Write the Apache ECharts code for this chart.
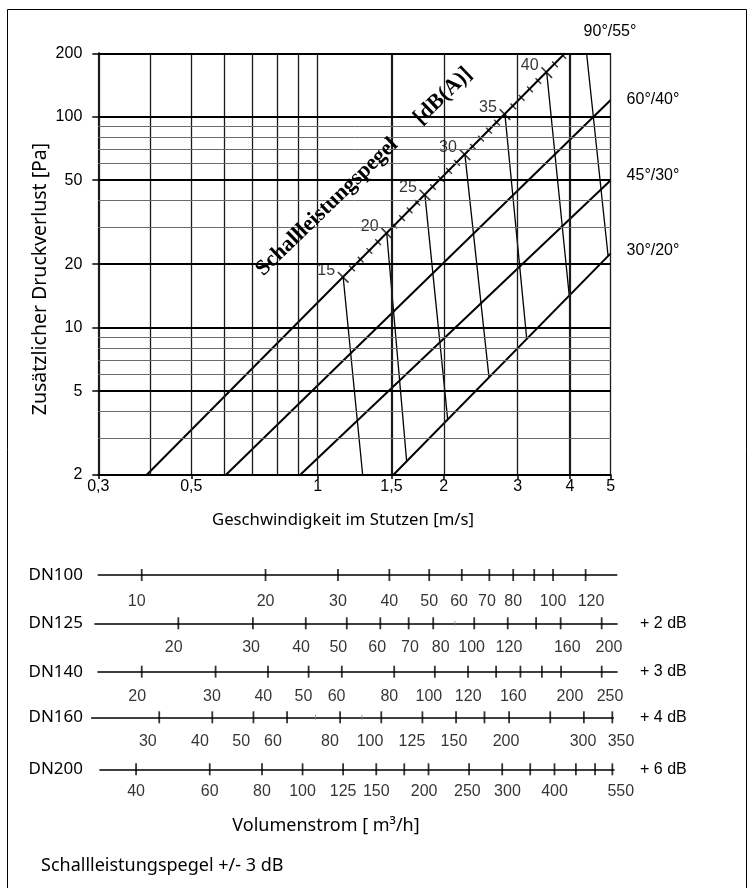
<!DOCTYPE html>
<html><head><meta charset="utf-8">
<script src="https://cdn.jsdelivr.net/npm/echarts@6/dist/echarts.min.js"></script>
<style>html,body{margin:0;padding:0;background:#fff}#c{width:750px;height:888px}</style>
</head><body><div id="c"></div>
<script>
// ---------- data ----------
const xTickValues = [0.3, 0.5, 1, 1.5, 2, 3, 4, 5];
const yTickValues = [2, 5, 10, 20, 50, 100, 200];
const xGridValues = [0.3, 0.4, 0.5, 0.6, 0.7, 0.8, 0.9, 1, 1.5, 2, 3, 4, 5];
const yGridMajorValues = [2, 5, 10, 20, 50, 100, 200];
const yGridMinorValues = [3, 4, 6, 7, 8, 9, 30, 40, 60, 70, 80, 90];

const fittingNames = ['90°/55°', '60°/40°', '45°/30°', '30°/20°'];
const line90_55 = [[0.391, 2], [3.89, 200]];
const line60_40 = [[0.604, 2], [5, 120]];
const line45_30 = [[0.908, 2], [5, 50]];
const line30_20 = [[1.515, 2], [5, 22.5]];

const dbLevels = [15, 20, 25, 30, 35, 40];
const dbMajorVelocity = [1.151, 1.462, 1.803, 2.246, 2.798, 3.519];
const dbMajorPressure = [17.33, 27.96, 42.52, 65.98, 102.4, 162.0];
const dbMinorVelocity = [1.208, 1.267, 1.329, 1.394, 1.525, 1.590, 1.658, 1.729, 1.884, 1.969, 2.058, 2.150,
  2.347, 2.453, 2.563, 2.678, 2.928, 3.066, 3.210, 3.361, 3.681, 3.855];
const dbMinorPressure = [19.09, 21.00, 23.10, 25.42, 30.42, 33.07, 35.96, 39.10, 46.43, 50.71, 55.40, 60.46,
  72.05, 78.71, 85.92, 93.80, 112.1, 123.0, 134.8, 147.8, 177.2, 194.4];

const iso15 = [[1.151, 17.33], [1.281, 2]];
const iso20 = [[1.462, 27.96], [1.631, 2.32]];
const iso25 = [[1.803, 42.52], [2.043, 3.67]];
const iso30 = [[2.246, 65.98], [2.563, 5.81]];
const iso35 = [[2.798, 102.4], [3.153, 8.84]];
const iso40 = [[3.519, 162.0], [3.982, 14.2]];
const iso45 = [[4.38, 200], [4.93, 21.8]];

const dnNames = ['DN100', 'DN125', 'DN140', 'DN160', 'DN200'];
const dnCorrections = ['', '+ 2 dB', '+ 3 dB', '+ 4 dB', '+ 6 dB'];
const dn100Ticks = [10, 20, 30, 40, 50, 60, 70, 80, 90, 100, 120];
const dn100Minor = [];
const dn100Labels = [10, 20, 30, 40, 50, 60, 70, 80, 100, 120];
const dn100LabelAt = [9.72, 20, 30, 40, 50, 59.1, 69.1, 80, 100, 123.7];
const dn125Ticks = [20, 30, 40, 50, 60, 70, 80, 100, 120, 140, 160, 200];
const dn125Minor = [90];
const dn125Labels = [20, 30, 40, 50, 60, 70, 80, 100, 120, 160, 200];
const dn125LabelAt = [19.5, 29.7, 39.0, 47.75, 59.0, 70.5, 83.3, 98.6, 120.8, 165.9, 208.1];
const dn140Ticks = [20, 30, 40, 50, 60, 80, 100, 120, 140, 160, 180, 200, 250];
const dn140Minor = [];
const dn140Labels = [20, 30, 40, 50, 60, 80, 100, 120, 160, 200, 250];
const dn140LabelAt = [19.5, 29.4, 39.0, 48.6, 58.3, 77.9, 96.8, 120.1, 153.8, 210.0, 261.7];
const dn160Ticks = [30, 40, 50, 60, 80, 100, 125, 150, 175, 200, 250, 300, 350];
const dn160Minor = [70, 90];
const dn160Labels = [30, 40, 50, 60, 80, 100, 125, 150, 200, 300, 350];
const dn160LabelAt = [28.2, 37.4, 46.8, 55.6, 75.7, 94.1, 118.1, 148.3, 196.7, 298.6, 367.0];
const dn200Ticks = [40, 60, 80, 100, 125, 150, 175, 200, 250, 300, 350, 400, 450, 500, 550];
const dn200Minor = [];
const dn200Labels = [40, 60, 80, 100, 125, 150, 200, 250, 300, 400, 550];
const dn200LabelAt = [40, 60, 80, 100, 125, 150, 195.2, 247.6, 308.8, 400, 576.2];

// ---------- layout / styles ----------
const NUM = '"Liberation Sans", Arial, sans-serif';
const DIN = '"Noto Sans", "DejaVu Sans", sans-serif';
const fmt = v => String(+(+v).toPrecision(4)).replace('.', ',');

const dnRows = [
  {ticks: dn100Ticks, minor: dn100Minor, labels: dn100Labels, at: dn100LabelAt, y: 575, xs: 98.3, xe: 616.7, min: 7.843, max: 142.8, off: 27},
  {ticks: dn125Ticks, minor: dn125Minor, labels: dn125Labels, at: dn125LabelAt, y: 623.3, xs: 95, xe: 617, min: 12.71, max: 217.4, off: 24},
  {ticks: dn140Ticks, minor: dn140Minor, labels: dn140Labels, at: dn140LabelAt, y: 671.7, xs: 98, xe: 617, min: 15.73, max: 271.9, off: 25},
  {ticks: dn160Ticks, minor: dn160Minor, labels: dn160Labels, at: dn160LabelAt, y: 717.3, xs: 91.7, xe: 613.3, min: 20.8, max: 351.9, off: 24},
  {ticks: dn200Ticks, minor: dn200Minor, labels: dn200Labels, at: dn200LabelAt, y: 769.3, xs: 100, xe: 614, min: 32.8, max: 555, off: 22.5}
];

const grid = [{left: 98.3, top: 53.3, width: 512.4, height: 421.7}];
const xAxis = [{
  type: 'log', gridIndex: 0, min: 0.3, max: 5, logBase: 10,
  axisLine: {show: true, lineStyle: {color: '#000', width: 2}},
  axisTick: {show: true, customValues: xTickValues, length: 4, lineStyle: {color: '#000', width: 1.5}},
  axisLabel: {customValues: xTickValues, formatter: v => fmt(v), color: '#000', fontFamily: NUM, fontSize: 16, margin: 4},
  splitLine: {show: false}, minorTick: {show: false}, minorSplitLine: {show: false}
}];
const yAxis = [{
  type: 'log', gridIndex: 0, min: 2, max: 200, logBase: 10,
  axisLine: {show: true, lineStyle: {color: '#000', width: 2}},
  axisTick: {show: true, customValues: yTickValues, length: 6, lineStyle: {color: '#000', width: 1.5}},
  axisLabel: {customValues: yTickValues, formatter: v => fmt(v), color: '#000', fontFamily: NUM, fontSize: 16, margin: 16},
  splitLine: {show: false}, minorTick: {show: false}, minorSplitLine: {show: false}
}];

const thickX = [0.3, 1.5, 4];
const gridMarks = [];
xGridValues.forEach(v => gridMarks.push({xAxis: v, lineStyle: {color: '#1a1a1a', width: thickX.includes(v) ? 2.2 : 1.3, type: 'solid'}}));
yGridMinorValues.forEach(v => gridMarks.push({yAxis: v, lineStyle: {color: '#6a6a6a', width: 1, type: 'solid'}}));
yGridMajorValues.forEach(v => gridMarks.push({yAxis: v, lineStyle: {color: '#000', width: 2, type: 'solid'}}));

const series = [];
series.push({
  type: 'line', xAxisIndex: 0, yAxisIndex: 0, data: [[0.3, 2]], showSymbol: false, symbol: 'none',
  lineStyle: {opacity: 0}, z: 1, silent: true,
  markLine: {silent: true, symbol: ['none', 'none'], label: {show: false}, animation: false, data: gridMarks}
});
[line90_55, line60_40, line45_30, line30_20].forEach((d, i) => series.push({
  type: 'line', name: fittingNames[i], xAxisIndex: 0, yAxisIndex: 0, data: d, symbol: 'none',
  lineStyle: {color: '#000', width: 2}, z: 3
}));
[iso15, iso20, iso25, iso30, iso35, iso40, iso45].forEach(d => series.push({
  type: 'line', xAxisIndex: 0, yAxisIndex: 0, data: d, symbol: 'none',
  lineStyle: {color: '#000', width: 1.3}, z: 3
}));
series.push({
  type: 'scatter', xAxisIndex: 0, yAxisIndex: 0, symbol: 'rect', symbolSize: [1.4, 8], symbolRotate: 45,
  itemStyle: {color: '#000'}, z: 4, silent: true,
  data: dbMinorVelocity.map((v, i) => [v, dbMinorPressure[i]])
});
series.push({
  type: 'scatter', xAxisIndex: 0, yAxisIndex: 0, symbol: 'rect', symbolSize: [1.6, 15], symbolRotate: 45,
  itemStyle: {color: '#000'}, z: 4, silent: true,
  data: dbMajorVelocity.map((v, i) => [v, dbMajorPressure[i], dbLevels[i]]),
  label: {show: true, position: 'inside', offset: [-17, -7], formatter: p => p.value[2],
    color: '#000', fontFamily: NUM, fontSize: 16}
});

dnRows.forEach((r, i) => {
  const gi = i + 1;
  grid.push({left: r.xs, width: r.xe - r.xs, top: r.y - 10, height: 20});
  xAxis.push({type: 'log', gridIndex: gi, min: r.min, max: r.max, logBase: 10,
    axisLine: {show: true, onZero: true, lineStyle: {color: '#000', width: 1.6}},
    axisTick: {show: false}, axisLabel: {show: false}, splitLine: {show: false}});
  yAxis.push({type: 'value', gridIndex: gi, min: -1, max: 1, show: false});
  series.push({type: 'scatter', xAxisIndex: gi, yAxisIndex: gi, symbol: 'rect', symbolSize: [1.8, 12],
    itemStyle: {color: '#000'}, silent: true, clip: false, z: 4, data: r.ticks.map(v => [v, 0])});
  if (r.minor.length) series.push({type: 'scatter', xAxisIndex: gi, yAxisIndex: gi, symbol: 'rect', symbolSize: [1, 5],
    itemStyle: {color: '#888'}, silent: true, clip: false, z: 4, data: r.minor.map(v => [v, 0])});
  series.push({type: 'scatter', xAxisIndex: gi, yAxisIndex: gi, symbolSize: 1, itemStyle: {color: 'rgba(0,0,0,0)'},
    silent: true, clip: false, z: 4, data: r.at.map((v, k) => [v, 0, r.labels[k]]),
    label: {show: true, position: 'inside', offset: [0, r.off], formatter: p => p.value[2],
      color: '#000', fontFamily: NUM, fontSize: 16}});
});

const graphic = [
  {type: 'rect', shape: {x: 7.5, y: 9.5, width: 739, height: 900}, style: {fill: 'none', stroke: '#000', lineWidth: 1}, z: 0, silent: true},
  {type: 'text', x: 40, y: 279, rotation: Math.PI / 2, style: {text: 'Zusätzlicher Druckverlust [Pa]', font: '19.5px "Noto Sans", "DejaVu Sans"', fill: '#000', align: 'center', verticalAlign: 'middle'}},
  {type: 'text', x: 343, y: 520, style: {text: 'Geschwindigkeit im Stutzen [m/s]', font: '16.7px "Noto Sans", "DejaVu Sans"', fill: '#000', align: 'center', verticalAlign: 'middle'}},
  {type: 'text', x: 327, y: 207, rotation: 44 * Math.PI / 180, style: {text: 'Schallleistungspegel', font: 'bold 22px "Liberation Serif", serif', fill: '#000', align: 'center', verticalAlign: 'middle'}, z: 10},
  {type: 'text', x: 443, y: 96, rotation: 44 * Math.PI / 180, style: {text: '[dB(A)]', font: 'bold 22px "Liberation Serif", serif', fill: '#000', align: 'center', verticalAlign: 'middle'}, z: 10},
  {type: 'text', x: 610, y: 32, style: {text: fittingNames[0], font: '16px "Liberation Sans", Arial', fill: '#000', align: 'center', verticalAlign: 'middle'}},
  {type: 'text', x: 653, y: 100, style: {text: fittingNames[1], font: '16px "Liberation Sans", Arial', fill: '#000', align: 'center', verticalAlign: 'middle'}},
  {type: 'text', x: 653, y: 176, style: {text: fittingNames[2], font: '16px "Liberation Sans", Arial', fill: '#000', align: 'center', verticalAlign: 'middle'}},
  {type: 'text', x: 653, y: 251, style: {text: fittingNames[3], font: '16px "Liberation Sans", Arial', fill: '#000', align: 'center', verticalAlign: 'middle'}},
  {type: 'text', x: 326, y: 826, style: {text: 'Volumenstrom [ m³/h]', font: '18px "Noto Sans", "DejaVu Sans"', fill: '#000', align: 'center', verticalAlign: 'middle'}},
  {type: 'text', x: 41, y: 866, style: {text: 'Schallleistungspegel +/- 3 dB', font: '18px "Noto Sans", "DejaVu Sans"', fill: '#000', align: 'left', verticalAlign: 'middle'}}
];
dnRows.forEach((r, i) => {
  graphic.push({type: 'text', x: 83, y: r.y, style: {text: dnNames[i], font: '17px "Noto Sans", "DejaVu Sans"', fill: '#000', align: 'right', verticalAlign: 'middle'}});
  if (dnCorrections[i]) graphic.push({type: 'text', x: 640, y: r.y, style: {text: dnCorrections[i], font: '16px "Liberation Sans", Arial', fill: '#000', align: 'left', verticalAlign: 'middle'}});
});

const chart = echarts.init(document.getElementById('c'), null, {renderer: 'canvas'});
chart.setOption({animation: false, backgroundColor: '#fff', grid, xAxis, yAxis, series, graphic});
</script></body></html>
